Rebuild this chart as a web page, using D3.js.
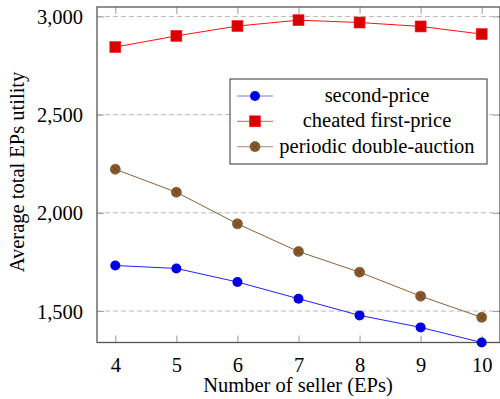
<!DOCTYPE html>
<html lang="en">
<head>
<meta charset="UTF-8">
<title>Average total EPs utility</title>
<script src="https://d3js.org/d3.v7.min.js"></script>
<style>
    body { margin: 0; background: #fff; }
    svg { display: block; }
</style>
</head>
<body>
<div id="chart"></div>
<script>
    // data
    const sellers = [4, 5, 6, 7, 8, 9, 10];
    const secondPrice = [1732, 1717, 1648, 1563, 1478, 1417, 1340];
    const cheatedFirstPrice = [2844, 2901, 2951, 2981, 2969, 2949, 2910];
    const periodicDouble = [2222, 2105, 1944, 1803, 1698, 1576, 1468];
    const yTicks = [1500, 2000, 2500, 3000];
    const seriesNames = ["second-price", "cheated first-price", "periodic double-auction"];

    const width = 500, height = 399;
    const plotLeft = 97, plotRight = 500, plotTop = 7, plotBottom = 342.5;
    const fontSize = 20.5;
    const serif = '"Liberation Serif", "Times New Roman", serif';

    const svg = d3.select("#chart").append("svg")
        .attr("width", width)
        .attr("height", height);

    const x = d3.scaleLinear().domain([3.7, 10.3]).range([plotLeft, plotRight]);
    const y = d3.scaleLinear().domain([1340, 3048]).range([plotBottom, plotTop]);

    // grid lines
    svg.append("g")
        .selectAll("line")
        .data(yTicks)
        .join("line")
        .attr("x1", plotLeft).attr("x2", plotRight)
        .attr("y1", d => y(d)).attr("y2", d => y(d))
        .attr("stroke", "#b8b8b8")
        .attr("stroke-width", 1)
        .attr("stroke-dasharray", "5,3");

    // inner ticks on all four sides
    const tickLen = 7;
    const tickColor = "#9a9a9a";
    const xAxisB = d3.axisBottom(x).tickValues(sellers).tickSize(-tickLen).tickPadding(tickLen + 8).tickFormat(d3.format("d"));
    const xAxisT = d3.axisTop(x).tickValues(sellers).tickSize(-tickLen).tickFormat("");
    const yAxisL = d3.axisLeft(y).tickValues(yTicks).tickSize(-tickLen).tickPadding(tickLen + 7).tickFormat(d3.format(","));
    const yAxisR = d3.axisRight(y).tickValues(yTicks).tickSize(-tickLen).tickFormat("");

    function styleAxis(g) {
        g.attr("font-size", fontSize).attr("font-family", null);
        g.select(".domain").remove();
        g.selectAll(".tick line").attr("stroke", tickColor);
        g.selectAll(".tick text").attr("fill", "#000").style("font-family", serif);
    }

    svg.append("g").attr("transform", `translate(0,${plotBottom})`).call(xAxisB).call(styleAxis)
        .selectAll(".tick text").attr("dy", "0.71em");
    svg.append("g").attr("transform", `translate(0,${plotTop})`).call(xAxisT).call(styleAxis);
    svg.append("g").attr("transform", `translate(${plotLeft},0)`).call(yAxisL).call(styleAxis)
        .selectAll(".tick text").attr("dy", "0.34em");
    svg.append("g").attr("transform", `translate(${plotRight},0)`).call(yAxisR).call(styleAxis);

    // axis box
    svg.append("rect")
        .attr("x", plotLeft).attr("y", plotTop)
        .attr("width", plotRight - plotLeft).attr("height", plotBottom - plotTop)
        .attr("fill", "none")
        .attr("stroke", "#555")
        .attr("stroke-width", 1.3);

    const line = d3.line()
        .x((d, i) => x(sellers[i]))
        .y(d => y(d));

    const series = [
        { name: seriesNames[0], values: secondPrice, line: "#2020ff", fill: "#0000e0", mark: "circle" },
        { name: seriesNames[1], values: cheatedFirstPrice, line: "#ff1010", fill: "#d80000", mark: "square" },
        { name: seriesNames[2], values: periodicDouble, line: "#8c6239", fill: "#8b5a2b", mark: "otimes" }
    ];

    function drawMarker(g, s) {
        if (s.mark === "circle") {
            g.append("circle").attr("r", 5).attr("fill", s.fill);
        } else if (s.mark === "square") {
            g.append("rect").attr("x", -5.5).attr("y", -5.5).attr("width", 11).attr("height", 11)
                .attr("fill", s.fill).attr("stroke", "#ff2020").attr("stroke-width", 0.6);
        } else {
            g.append("circle").attr("r", 5).attr("fill", s.fill).attr("stroke", "#6b4420").attr("stroke-width", 0.6);
            const r = 3.5;
            g.append("path")
                .attr("d", `M${-r},${-r}L${r},${r}M${-r},${r}L${r},${-r}`)
                .attr("stroke", "#5a3a1a").attr("stroke-width", 0.7);
        }
    }

    series.forEach(s => {
        svg.append("path")
            .datum(s.values)
            .attr("d", line)
            .attr("fill", "none")
            .attr("stroke", s.line)
            .attr("stroke-width", 1);

        svg.append("g")
            .selectAll("g")
            .data(s.values)
            .join("g")
            .attr("transform", (d, i) => `translate(${x(sellers[i])},${y(d)})`)
            .each(function () { drawMarker(d3.select(this), s); });
    });

    // legend
    const legend = svg.append("g").attr("transform", "translate(230,79)");
    legend.append("rect")
        .attr("width", 257).attr("height", 85)
        .attr("fill", "#fff")
        .attr("stroke", "#333")
        .attr("stroke-width", 1);

    series.forEach((s, i) => {
        const row = legend.append("g").attr("transform", `translate(0,${17 + i * 25.3})`);
        row.append("line")
            .attr("x1", 7).attr("x2", 43)
            .attr("stroke", s.line).attr("stroke-opacity", 0.6).attr("stroke-width", 1.2);
        const m = row.append("g").attr("transform", "translate(25,0)");
        drawMarker(m, s);
        row.append("text")
            .attr("x", 147).attr("dy", "0.3em")
            .attr("text-anchor", "middle")
            .attr("font-size", fontSize)
            .style("font-family", serif)
            .text(s.name);
    });

    // axis titles
    svg.append("text")
        .attr("x", 298)
        .attr("y", 392)
        .attr("text-anchor", "middle")
        .attr("font-size", fontSize)
        .style("font-family", serif)
        .text("Number of seller (EPs)");

    svg.append("text")
        .attr("transform", "translate(17,172) rotate(-90)")
        .attr("dy", "0.34em")
        .attr("text-anchor", "middle")
        .attr("font-size", fontSize)
        .style("font-family", serif)
        .text("Average total EPs utility");
</script>
</body>
</html>
